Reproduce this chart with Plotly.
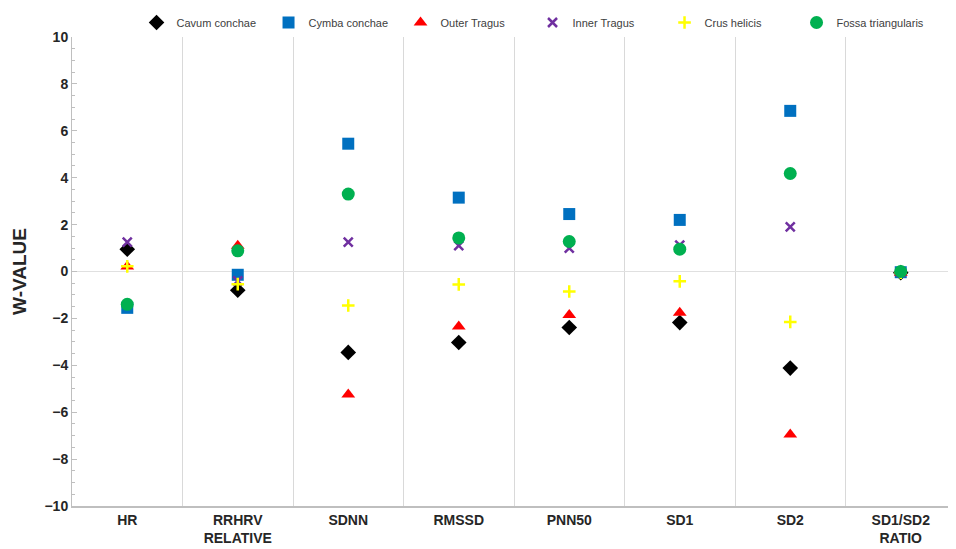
import plotly.graph_objects as go

categories = ["HR", "RRHRV<br>RELATIVE", "SDNN", "RMSSD", "PNN50", "SD1", "SD2", "SD1/SD2<br>RATIO"]

cavum_conchae = [0.95, -0.80, -3.45, -3.03, -2.39, -2.18, -4.12, -0.05]
cymba_conchae = [-1.55, -0.14, 5.45, 3.15, 2.45, 2.20, 6.85, -0.03]
outer_tragus = [0.21, 1.10, -5.25, -2.35, -1.86, -1.76, -6.95, -0.05]
inner_tragus = [1.25, -0.40, 1.25, 1.10, 1.00, 1.12, 1.90, -0.04]
crus_helicis = [0.22, -0.54, -1.45, -0.55, -0.85, -0.42, -2.15, -0.05]
fossa_triangularis = [-1.40, 0.88, 3.30, 1.43, 1.28, 0.95, 4.18, 0.0]

series = [
    ("Cavum conchae", cavum_conchae, "diamond", "#000000", 12, None),
    ("Cymba conchae", cymba_conchae, "square", "#0070C0", 12, None),
    ("Outer Tragus", outer_tragus, "triangle-up", "#FF0000", 12, None),
    ("Inner Tragus", inner_tragus, "x-thin-open", "#7030A0", 9, 2.5),
    ("Crus helicis", crus_helicis, "cross-thin-open", "#FFFF00", 9, 2.5),
    ("Fossa triangularis", fossa_triangularis, "circle", "#00B050", 13, None),
]

fig = go.Figure()
for name, vals, sym, col, size, lw in series:
    marker = dict(symbol=sym, color=col, size=size)
    if lw:
        marker["line"] = dict(color=col, width=lw)
    else:
        marker["line"] = dict(width=0)
    fig.add_trace(go.Scatter(x=categories, y=vals, mode="markers", name=name, marker=marker))

FONT = "Liberation Sans, Arial, sans-serif"

fig.update_layout(
    width=948, height=541,
    margin=dict(l=64, r=0, t=24, b=43),
    paper_bgcolor="white", plot_bgcolor="white",
    font=dict(family=FONT, color="#262626"),
    legend=dict(orientation="h", x=0.073, y=1.0, xref="paper", yref="container",
                xanchor="left", yanchor="top",
                font=dict(size=11, color="#404040"), itemwidth=30,
                entrywidth=87, entrywidthmode="pixels",
                bgcolor="rgba(0,0,0,0)"),
    showlegend=True,
)
fig.update_xaxes(
    type="category", tickson="boundaries", showgrid=True, gridcolor="#d9d9d9", gridwidth=1,
    showline=True, linecolor="#bfbfbf", linewidth=2, ticks="",
    tickfont=dict(size=14, family=FONT, weight="bold", color="#262626"),
    range=[-0.5, 7.5], automargin=False,
)
fig.update_yaxes(
    range=[-10, 10], dtick=2, tick0=0, showgrid=False,
    zeroline=True, zerolinecolor="#e0e0e0", zerolinewidth=1,
    showline=True, linecolor="#bfbfbf", linewidth=1,
    ticks="inside", ticklen=5, tickcolor="#bfbfbf",
    minor=dict(dtick=0.5, ticks="inside", ticklen=3, tickcolor="#bfbfbf"),
    tickfont=dict(size=14, family=FONT, weight="bold", color="#262626"),
    title=dict(text="W-VALUE", font=dict(size=19, family=FONT, weight="bold", color="#262626"), standoff=12),
    automargin=False,
)

fig.write_html("out.html")
